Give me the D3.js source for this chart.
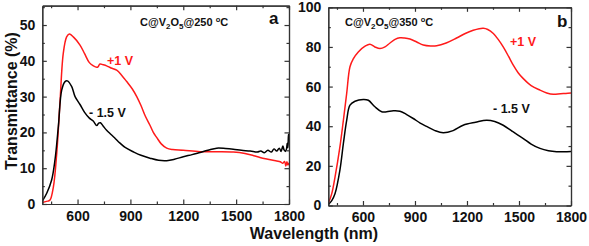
<!DOCTYPE html>
<html>
<head>
<meta charset="utf-8">
<script src="https://cdn.jsdelivr.net/npm/d3@7/dist/d3.min.js"></script>
<style>
  body { margin: 0; background: #fff; }
  svg text { font-family: Arial, "Liberation Sans", sans-serif; font-weight: bold; }
  .axis path, .axis line { stroke: #333; stroke-width: 1.2; }
  .axis text { font-size: 14px; fill: #111; }
</style>
</head>
<body>
<svg id="chart" width="589" height="246"></svg>
<script>
// ---- data ----
// panel a : C@V2O5@250 C
var aRedWl = [400,430,444,463,482,500,519,538,553,576,614,640,667,690,709,716,727,745,765,790,822,850,879,910,936,960,985,1011,1030,1049,1075,1106,1140,1200,1295,1400,1484,1550,1600,1635,1680,1730,1750,1765,1775,1782,1788,1794,1800];
var aRedT  = [0.4,0.8,1.1,4.8,14.2,28.1,42.1,46.7,47.5,46.7,44.4,42,39.5,38.6,38.2,38.3,39.1,38.9,38.6,38,37.4,36,34.2,32.2,30,27.5,24.5,22,20,18.6,16.8,15.6,15.2,15,14.6,14.6,14.5,14.1,13.5,13,12.5,12,11.8,11.4,11.9,10.6,11.8,10.9,11.5];

var aBlkWl = [400,425,453,472,491,510,529,542,567,586,614,640,667,689,709,720,730,745,765,784,810,841,870,916,960,1011,1060,1106,1150,1200,1250,1295,1340,1390,1440,1484,1530,1580,1620,1640,1660,1680,1700,1715,1730,1745,1755,1765,1772,1780,1786,1790,1794,1797,1800];
var aBlkT  = [0.8,3,6.7,12.3,21.6,31.8,34.2,34.4,32.8,30,27.8,25.6,24,23.2,21.9,22.6,22.7,21.8,20.6,19.7,18.5,17,15.8,14.6,13.6,12.8,12.2,12.1,12.5,13.2,13.8,14.4,15,15.6,15.5,15.3,15,14.8,14.5,14.8,14.3,15,14.5,15.4,14.8,15.6,14.7,16.2,15.1,14.7,15.4,17,15.8,19.5,18.5];

// panel b : C@V2O5@350 C
var bRedWl = [400,420,439,467,487,506,525,544,573,612,640,669,698,727,756,785,813,840,871,910,948,990,1025,1080,1140,1190,1236,1270,1294,1320,1352,1380,1409,1440,1467,1495,1525,1570,1621,1660,1698,1740,1770,1800];
var bRedT  = [1,6,14.5,29.6,43,56.5,70,74,77.5,80.4,81.4,80,79.2,80,82,83.8,84.6,84.5,84,82.5,81,80.5,80.6,82,84.5,86.8,88.4,89.2,89.4,88.8,86.8,83.8,80,75.2,70.8,67,64,60.5,58.2,56.8,56.1,56.4,56.5,56.7];

var bBlkWl = [400,420,439,467,487,506,525,554,602,631,669,708,737,775,813,850,890,930,967,1015,1063,1120,1178,1250,1313,1360,1409,1460,1525,1570,1621,1670,1717,1760,1800];
var bBlkT  = [0.5,2.5,6.1,17.9,31.3,43,50.6,52.6,53.5,53.1,49.8,47.3,47.3,47.8,47.6,46,43.9,41.6,39.9,37.8,36.7,37.8,40.5,42,43,42.4,40.5,37.5,33.8,31,28.8,27.6,27.1,27.1,27.3];

var xTicks = [600, 900, 1200, 1500, 1800];
var xMinor = [450, 750, 1050, 1350, 1650];
var aYTicks = [0, 10, 20, 30, 40, 50];
var aYMinor = [5, 15, 25, 35, 45, 55];
var bYTicks = [0, 20, 40, 60, 80, 100];
var bYMinor = [10, 30, 50, 70, 90];

var red = "#ff1a1a";
var black = "#000";

var panels = [
  { left: 42.3, right: 289, top: 5.7, bottom: 204, yMax: 55.4,
    yTicks: aYTicks, yMinor: aYMinor,
    series: [{ wl: aRedWl, t: aRedT, c: red }, { wl: aBlkWl, t: aBlkT, c: black }],
    title: { x: 140, y: 26, temp: "250" }, letter: { x: 269, y: 24, t: "a" },
    plus: { x: 107, y: 65 }, minus: { x: 89, y: 117 } },
  { left: 328.3, right: 571, top: 7.3, bottom: 205.5, yMax: 100,
    yTicks: bYTicks, yMinor: bYMinor,
    series: [{ wl: bRedWl, t: bRedT, c: red }, { wl: bBlkWl, t: bBlkT, c: black }],
    title: { x: 345, y: 26, temp: "350" }, letter: { x: 557, y: 26.5, t: "b" },
    plus: { x: 510, y: 46 }, minus: { x: 493, y: 113 } }
];

var svg = d3.select("#chart");
var fmt = d3.format("d");

panels.forEach(function (p) {
  var x = d3.scaleLinear().domain([400, 1800]).range([p.left, p.right]);
  var y = d3.scaleLinear().domain([0, p.yMax]).range([p.bottom, p.top]);

  // curves first, frame drawn over them
  var clipId = "clip" + p.letter.t;
  svg.append("clipPath").attr("id", clipId).append("rect")
    .attr("x", p.left).attr("y", p.top)
    .attr("width", p.right - p.left).attr("height", p.bottom - p.top);

  var line = d3.line()
    .x(function (d) { return x(d[0]); })
    .y(function (d) { return y(d[1]); })
    .curve(d3.curveCatmullRom.alpha(0.5));

  p.series.forEach(function (s) {
    var pts = s.wl.map(function (w, i) { return [w, s.t[i]]; });
    svg.append("path").datum(pts)
      .attr("clip-path", "url(#" + clipId + ")")
      .attr("d", line)
      .attr("fill", "none")
      .attr("stroke", s.c)
      .attr("stroke-width", 1.5);
  });

  // axes: ticks point inward on all four sides
  function addAxis(axis, tx, ty, labels) {
    var g = svg.append("g").attr("class", "axis")
      .attr("transform", "translate(" + tx + "," + ty + ")")
      .call(axis);
    if (!labels) g.selectAll("text").remove();
    return g;
  }

  addAxis(d3.axisBottom(x).tickValues(xTicks).tickFormat(fmt).tickSize(-4.5).tickSizeOuter(0).tickPadding(7), 0, p.bottom, true);
  addAxis(d3.axisBottom(x).tickValues(xMinor).tickSize(-2.5).tickSizeOuter(0), 0, p.bottom, false);
  addAxis(d3.axisTop(x).tickValues(xTicks).tickSize(-4.5).tickSizeOuter(0), 0, p.top, false);
  addAxis(d3.axisTop(x).tickValues(xMinor).tickSize(-2.5).tickSizeOuter(0), 0, p.top, false);

  var yMinor = p.yMinor.filter(function (v) { return v < p.yMax; });
  addAxis(d3.axisLeft(y).tickValues(p.yTicks).tickFormat(fmt).tickSize(-4.5).tickSizeOuter(0).tickPadding(7), p.left, 0, true);
  addAxis(d3.axisLeft(y).tickValues(yMinor).tickSize(-2.5).tickSizeOuter(0), p.left, 0, false);
  addAxis(d3.axisRight(y).tickValues(p.yTicks).tickSize(-4.5).tickSizeOuter(0), p.right, 0, false);
  addAxis(d3.axisRight(y).tickValues(yMinor).tickSize(-2.5).tickSizeOuter(0), p.right, 0, false);

  svg.selectAll(".axis text").style("font-family", "Arial, 'Liberation Sans', sans-serif");

  // annotations
  var t = svg.append("text").attr("x", p.title.x).attr("y", p.title.y)
    .attr("font-size", 11).attr("fill", "#111");
  t.append("tspan").text("C@V");
  t.append("tspan").attr("font-size", 8).attr("dy", 2.5).text("2");
  t.append("tspan").attr("dy", -2.5).text("O");
  t.append("tspan").attr("font-size", 8).attr("dy", 2.5).text("5");
  t.append("tspan").attr("dy", -2.5).text("@" + p.title.temp + " ");
  t.append("tspan").attr("font-size", 7.5).attr("dy", -4).text("o");
  t.append("tspan").attr("dy", 4).text("C");

  svg.append("text").attr("x", p.letter.x).attr("y", p.letter.y)
    .attr("font-size", 17).attr("fill", "#111").text(p.letter.t);

  svg.append("text").attr("x", p.plus.x).attr("y", p.plus.y)
    .attr("font-size", 12.5).attr("fill", red).text("+1 V");
  svg.append("text").attr("x", p.minus.x).attr("y", p.minus.y)
    .attr("font-size", 12.5).attr("fill", "#111").text("- 1.5 V");
});

// axis titles
svg.append("text")
  .attr("x", 314).attr("y", 239)
  .attr("text-anchor", "middle")
  .attr("font-size", 16).attr("fill", "#111")
  .text("Wavelength (nm)");

svg.append("text")
  .attr("transform", "translate(17,101) rotate(-90)")
  .attr("text-anchor", "middle")
  .attr("font-size", 16).attr("fill", "#111")
  .text("Transmittance (%)");
</script>
</body>
</html>
